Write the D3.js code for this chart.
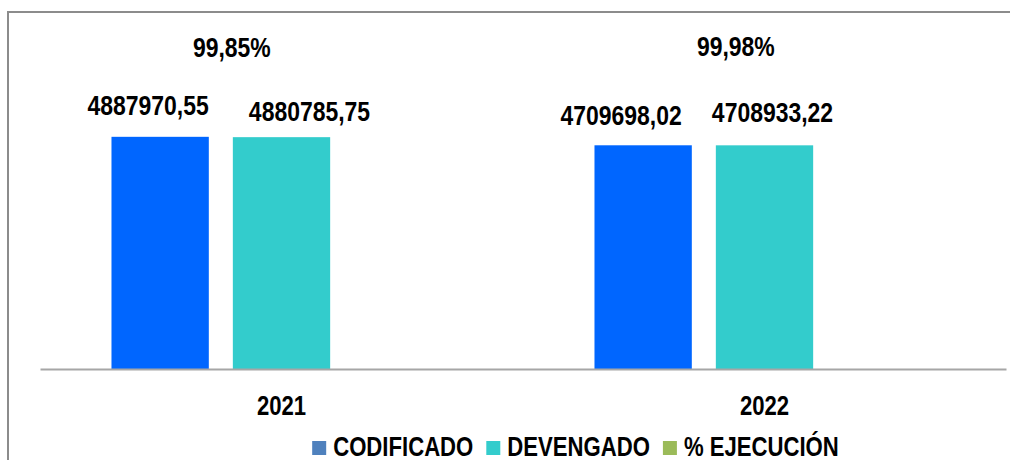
<!DOCTYPE html>
<html>
<head>
<meta charset="utf-8">
<script src="https://cdn.jsdelivr.net/npm/d3@7"></script>
<style>
  html, body { margin: 0; padding: 0; background: #fff; }
  svg text { font-family: "Liberation Sans", Arial, sans-serif; font-weight: bold; fill: #000; }
</style>
</head>
<body>
<svg id="chart" width="1010" height="460"></svg>
<script>
// datos
const years = ["2021", "2022"];
const series = ["CODIFICADO", "DEVENGADO", "% EJECUCIÓN"];
const codificado = [4887970.55, 4709698.02];
const devengado = [4880785.75, 4708933.22];
const ejecucion = [99.85, 99.98];
const codificadoLabels = ["4887970,55", "4709698,02"];
const devengadoLabels = ["4880785,75", "4708933,22"];
const ejecucionLabels = ["99,85%", "99,98%"];

const colors = { "CODIFICADO": "#0066ff", "DEVENGADO": "#33cccc", "% EJECUCIÓN": "#9bbb59" };
const legendColors = { "CODIFICADO": "#4f81bd", "DEVENGADO": "#33cccc", "% EJECUCIÓN": "#9bbb59" };

// etiquetas movidas a mano en el original (dx respecto al centro de la barra, y absoluta de la línea base)
const labelNudge = {
  "CODIFICADO": [[-12, 115], [-22, 125]],
  "DEVENGADO": [[28, 121], [8, 122]],
  "% EJECUCIÓN": [[-171, 57], [-150, 56]]
};

// fuente estrecha simulada (no hay Arial Narrow)
const narrow = 0.82;

const svg = d3.select("#chart");
const baseY = 369;

// marco
svg.append("rect")
  .attr("x", 8).attr("y", 12)
  .attr("width", 1010).attr("height", 460)
  .attr("fill", "none")
  .attr("stroke", "#8c8c8c")
  .attr("stroke-width", 2);

const x0 = d3.scaleBand().domain(years).range([40, 1006])
  .paddingInner(0.296).paddingOuter(0.148);
const x1 = d3.scaleBand().domain(series).range([0, x0.bandwidth()])
  .paddingInner(0.198).paddingOuter(0);
const y = d3.scaleLinear().domain([0, 6000000]).range([baseY, 84]);

const data = [];
years.forEach((yr, i) => {
  data.push({ year: yr, i: i, key: "CODIFICADO", value: codificado[i], label: codificadoLabels[i] });
  data.push({ year: yr, i: i, key: "DEVENGADO", value: devengado[i], label: devengadoLabels[i] });
  data.push({ year: yr, i: i, key: "% EJECUCIÓN", value: ejecucion[i], label: ejecucionLabels[i] });
});

svg.append("g").selectAll("rect")
  .data(data)
  .enter()
  .append("rect")
  .attr("x", (d) => x0(d.year) + x1(d.key))
  .attr("y", (d) => y(d.value))
  .attr("width", x1.bandwidth())
  .attr("height", (d) => baseY - y(d.value))
  .attr("fill", (d) => colors[d.key]);

// eje x
const xAxis = svg.append("g")
  .attr("transform", `translate(0, ${baseY})`)
  .call(d3.axisBottom(x0).tickSize(0).tickPadding(0));
xAxis.select(".domain").attr("stroke", "#a6a6a6").attr("stroke-width", 2);
xAxis.selectAll(".tick text")
  .attr("y", 46)
  .attr("dy", null)
  .attr("transform", `scale(${narrow}, 1)`)
  .style("font-size", "27px")
  .attr("font-family", null);

// etiquetas de datos
svg.append("g").selectAll("text")
  .data(data)
  .enter()
  .append("text")
  .attr("transform", (d) => {
    const lx = x0(d.year) + x1(d.key) + x1.bandwidth() / 2 + labelNudge[d.key][d.i][0];
    const ly = labelNudge[d.key][d.i][1];
    return `translate(${lx}, ${ly}) scale(${narrow}, 1)`;
  })
  .attr("text-anchor", "middle")
  .style("font-size", "28px")
  .text((d) => d.label);

// leyenda
const legend = svg.append("g");
const items = legend.selectAll("g")
  .data(series)
  .enter()
  .append("g");
items.append("rect")
  .attr("width", 14).attr("height", 14)
  .attr("y", -15)
  .attr("fill", (d) => legendColors[d]);
items.append("text")
  .attr("transform", `translate(21, 0) scale(${narrow}, 1)`)
  .style("font-size", "27px")
  .text((d) => d);
let cx = 0;
items.each(function () {
  const w = 21 + narrow * d3.select(this).select("text").node().getComputedTextLength();
  d3.select(this).attr("transform", `translate(${cx}, 0)`);
  cx += w + 13;
});
const legendWidth = cx - 13;
legend.attr("transform", `translate(${575.5 - legendWidth / 2}, 456)`);
</script>
</body>
</html>
